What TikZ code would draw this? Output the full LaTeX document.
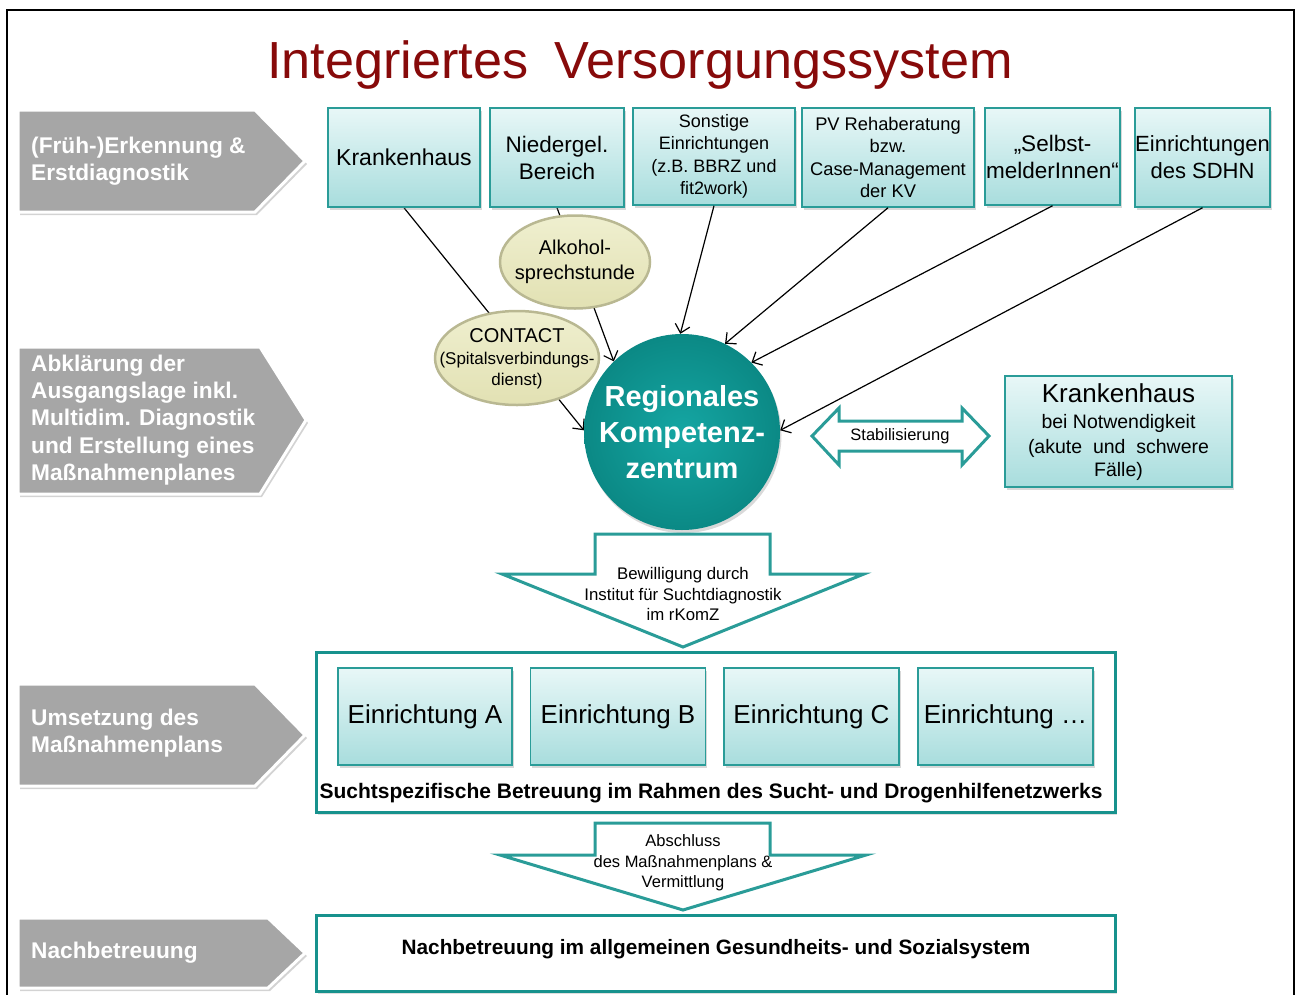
\documentclass[tikz,border=0pt]{standalone}
\usepackage{fontspec}
\setmainfont{Liberation Sans}
\usetikzlibrary{shadows,arrows.meta,shapes.geometric,backgrounds}
\definecolor{tealb}{HTML}{2A9C98}
\definecolor{tealdark}{HTML}{17928D}
\definecolor{boxtop}{HTML}{E8F7F7}
\definecolor{boxbot}{HTML}{A8DDDD}
\definecolor{chevgrey}{HTML}{A6A6A6}
\definecolor{titlered}{HTML}{870A0A}
\definecolor{elltop}{HTML}{EFEFCF}
\definecolor{ellbot}{HTML}{E2E1B3}
\definecolor{elldraw}{HTML}{B9B892}
\definecolor{circin}{HTML}{15A6A3}
\definecolor{circout}{HTML}{0B8985}
\newcommand\myfs[2]{\fontsize{#1}{#2}\selectfont}
\begin{document}
\begin{tikzpicture}[x=1pt,y=-1pt,
  tbox/.style={draw=tealb, line width=1.5pt, top color=boxtop, bottom color=boxbot,
    drop shadow={shadow xshift=1.5pt, shadow yshift=-2.5pt, opacity=.3},
    align=center, inner sep=0pt},
  ell/.style={ellipse, draw=elldraw, line width=2.5pt, top color=elltop, bottom color=ellbot,
    inner sep=0pt},
  chev/.style={fill=chevgrey, draw=white, line width=3pt, line join=miter,
    drop shadow={shadow xshift=2pt, shadow yshift=-3pt, opacity=.35}},
  chevtext/.style={anchor=west, align=left, text=white, inner sep=0pt,
    font=\bfseries\myfs{22.7}{27.4}},
  darr/.style={draw=tealb, line width=3pt, fill=white, line join=miter},
  bigbox/.style={draw=tealdark, line width=3pt, fill=white,
    drop shadow={shadow xshift=1.5pt, shadow yshift=-2.5pt, opacity=.25}, inner sep=0pt},
  arr/.style={-{Straight Barb[length=8pt,width=15pt]}, line width=1.2pt, black},
  plain/.style={inner sep=0pt, align=center}
]
\clip (0,0) rectangle (1296,994);
\useasboundingbox (0,0) rectangle (1296,994);
% frame
\draw[line width=2.5pt, black] (7,10) rectangle (1294,1010);

% title
\node[anchor=base, text=titlered, font=\myfs{52.2}{60}, inner sep=0pt] (title) at (640,78)
  {Integriertes\hspace{0.5em}Versorgungssystem};

% chevrons
\path[chev] (18,110) -- (255,110) -- (305,161) -- (255,212) -- (18,212) -- cycle;
\node[chevtext] (c1) at (31,161) {(Früh-)Erkennung \&\\Erstdiagnostik};
\path[chev] (18,347) -- (260,347) -- (306,420) -- (260,494) -- (18,494) -- cycle;
\node[chevtext] (c2) at (31,420) {Abklärung der\\Ausgangslage inkl.\\Multidim. Diagnostik\\und Erstellung eines\\Maßnahmenplanes};
\path[chev] (18,684) -- (255,684) -- (305,735) -- (255,786) -- (18,786) -- cycle;
\node[chevtext] (c3) at (31,733) {Umsetzung des\\Maßnahmenplans};
\path[chev] (18,918) -- (268,918) -- (305,953) -- (268,988) -- (18,988) -- cycle;
\node[chevtext] (c4) at (31,953) {Nachbetreuung};

% top boxes
\node[tbox, minimum width=152, minimum height=99, font=\myfs{23}{27}] (kh) at (404,157.5) {Krankenhaus};
\node[tbox, minimum width=134, minimum height=99, font=\myfs{22.5}{27}] (nb) at (557,157.5) {Niedergel.\\Bereich};
\node[tbox, minimum width=162, minimum height=97, font=\myfs{18}{22.4}] (so) at (714,156.5) {Sonstige\\Einrichtungen\\(z.B. BBRZ und\\fit2work)};
\node[tbox, minimum width=172, minimum height=99, font=\myfs{18.3}{22.6}] (pv) at (888,157.5) {PV Rehaberatung\\bzw.\\Case-Management\\der KV};
\node[tbox, minimum width=135, minimum height=97, font=\myfs{22.5}{27}] (sm) at (1052.5,156.5) {„Selbst-\\melderInnen“};
\node[tbox, minimum width=135, minimum height=99, font=\myfs{22}{27}] (sd) at (1202.5,157.5) {Einrichtungen\\des SDHN};

% central circle
\node[circle, minimum size=196, inner sep=0pt, inner color=circin, outer color=circout,
  drop shadow={shadow xshift=1.5pt, shadow yshift=-3pt, opacity=.3},
  text=white, align=center, font=\bfseries\myfs{29}{36}] (rk) at (682,432)
  {Regionales\\Kompetenz-\\zentrum};

% connectors (behind)
\begin{pgfonlayer}{background}
\draw[arr] (kh.south) -- (rk.179);
\draw[arr] (nb.south) -- (rk.134);
\end{pgfonlayer}
\draw[arr] (so.south) -- (rk.91);
\draw[arr] (pv.south) -- (rk.64);
\draw[arr] (sm.south) -- (rk.45);
\draw[arr] (sd.south) -- (rk.1);

% ellipses
\node[ell, minimum width=150, minimum height=93] (alk) at (575,262) {};
\node[plain, font=\myfs{20}{25}] (alkt) at (alk) {Alkohol-\\sprechstunde};
\node[ell, minimum width=164, minimum height=94] (ct) at (517,358) {};
\node[plain, font=\myfs{17}{21}] (ctt) at (517,359)
  {{\myfs{20}{21}CONTACT}\\[1pt](Spitalsverbindungs-\\dienst)};

% Stabilisierung double arrow
\path[darr] (812,436) -- (839,408) -- (839,421) -- (962,421) -- (962,408) -- (989,436)
  -- (962,465) -- (962,451) -- (839,451) -- (839,465) -- cycle;
\node[plain, font=\myfs{16.5}{20}] (stab) at (900,436) {Stabilisierung};

% right Krankenhaus box
\node[tbox, minimum width=227, minimum height=111] (kh2) at (1118.5,431.5) {};
\node[plain, font=\myfs{19.5}{25}] (kh2t) at (1118.5,432)
  {{\myfs{26}{25}Krankenhaus}\\[1.5pt]bei Notwendigkeit\\(akute\ \ und\ \ schwere\\[-2pt]Fälle)};

% down arrow 1
\path[darr] (595,534) -- (770,534) -- (770,574) -- (864,574) -- (683,647) -- (502,574) -- (595,574) -- cycle;
\node[plain, font=\myfs{16.8}{20.5}] (bew) at (683,594) {Bewilligung durch\\Institut für Suchtdiagnostik\\im rKomZ};

% big box 1
\node[bigbox, minimum width=799, minimum height=160] (sb) at (715.5,732) {};
\node[tbox, minimum width=174, minimum height=97, font=\myfs{26}{30}] (ea) at (425,716.5) {Einrichtung A};
\node[tbox, minimum width=175, minimum height=97, font=\myfs{26}{30}] (eb) at (618,716.5) {Einrichtung B};
\node[tbox, minimum width=175, minimum height=97, font=\myfs{26}{30}] (ec) at (811.5,716.5) {Einrichtung C};
\node[tbox, minimum width=175, minimum height=97, font=\myfs{26}{30}] (ed) at (1005.5,716.5) {Einrichtung …};
\node[plain, font=\bfseries\myfs{21}{24}] (sbt) at (711,793) {Suchtspezifische Betreuung im Rahmen des Sucht- und Drogenhilfenetzwerks};

% down arrow 2
\path[darr] (595,823) -- (770,823) -- (770,855) -- (866,855) -- (683,910) -- (500,855) -- (595,855) -- cycle;
\node[plain, font=\myfs{16.5}{20.5}] (abs) at (683,863) {Abschluss\\des Maßnahmenplans \&\\Vermittlung};

% big box 2
\node[bigbox, minimum width=799, minimum height=76] (nbox) at (715.5,953) {};
\node[plain, font=\bfseries\myfs{20.8}{24}] (nbt) at (716,949) {Nachbetreuung im allgemeinen Gesundheits- und Sozialsystem};
\end{tikzpicture}
\end{document}
